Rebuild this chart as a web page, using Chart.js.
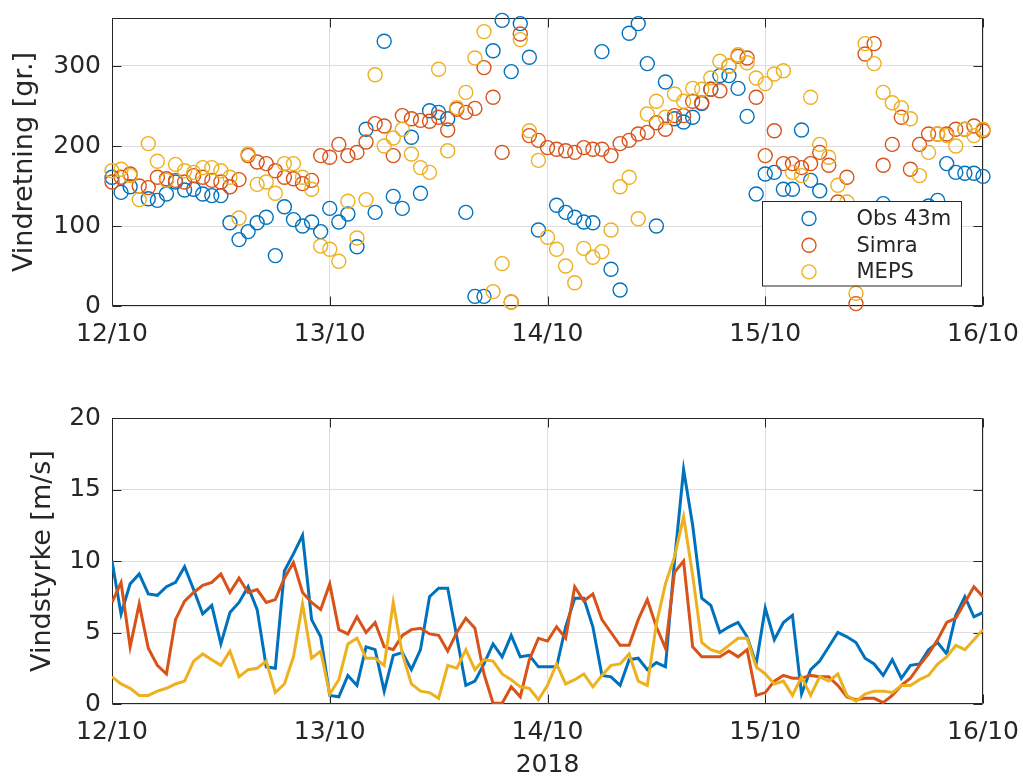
<!DOCTYPE html>
<html>
<head>
<meta charset="utf-8">
<script src="https://cdn.jsdelivr.net/npm/chart.js@4.4.0/dist/chart.umd.min.js"></script>
<style>
  html, body { margin: 0; padding: 0; background: #fff; overflow: hidden; }
  #wrap { position: relative; width: 1023px; height: 778px; }
  canvas { position: absolute; left: 0; }
</style>
</head>
<body>
<div id="wrap">
  <canvas id="chartRetning" width="1023" height="380" style="top:0px"></canvas>
  <canvas id="chartStyrke" width="1023" height="398" style="top:380px"></canvas>
</div>
<script>
// hourly values, 12/10 00:00 -> 16/10 00:00 (97 hours)
var seriesNames = ['Obs 43m', 'Simra', 'MEPS'];
var dayTicks = [0, 24, 48, 72, 96];
var dayLabels = ['12/10', '13/10', '14/10', '15/10', '16/10'];
var yearLabel = '2018';
var retningTicks = [0, 100, 200, 300];
var styrkeTicks = [0, 5, 10, 15, 20];

var retningObs = [
    161, 142, 149, null, 134, 132, 140, 155, 145, 146,
    140, 138, 138, 104, 83, 93, 104, 111, 63, 124,
    108, 100, 105, 93, 122, 105, 115, 74, 221, 117,
    331, 137, 122, 211, 141, 244, 242, 234, null, 117,
    12, 12, 319, 357, 293, 353, 311, 95, null, 126,
    117, 111, 105, 104, 318, 46, 20, 341, 353, 303,
    100, 280, 234, 230, 236, 253, 271, 288, 288, 272,
    237, 140, 165, 167, 146, 146, 220, 157, 144, 120,
    110, 100, 95, 105, 115, 128, 120, 115, 110, 118,
    125, 132, 178, 167, 166, 166, 162
];
var retningSimra = [
    155, 161, 165, 150, 148, 161, 159, 157, 155, 163,
    161, 157, 155, 149, 158, 188, 180, 178, 169, 161,
    159, 153, 157, 188, 186, 202, 188, 192, 205, 228,
    225, 188, 238, 234, 232, 231, 236, 220, 246, 242,
    247, 298, 261, 192, 5, 340, 213, 207, 198, 196,
    194, 192, 198, 196, 196, 188, 203, 207, 215, 217,
    229, 221, 238, 238, 256, 254, 271, 269, 300, 312,
    310, 261, 188, 219, 178, 178, 173, 178, 192, 176,
    130, 161, 3, 315, 328, 176, 202, 236, 171, 202,
    215, 215, 215, 221, 221, 225, 219
];
var retningMeps = [
    169, 171, 163, 133, 203, 181, 157, 177, 169, 167,
    173, 173, 169, 161, 110, 190, 152, 155, 141, 178,
    178, 161, 146, 75, 71, 56, 131, 85, 133, 289,
    200, 210, 221, 190, 173, 167, 296, 194, 248, 267,
    310, 343, 18, 53, 5, 333, 219, 182, 86, 71,
    50, 29, 72, 61, 68, 95, 149, 161, 109, 240,
    256, 236, 265, 256, 272, 271, 285, 306, 300, 314,
    304, 285, 278, 290, 294, 167, 163, 261, 202, 186,
    151, 130, 16, 328, 303, 267, 254, 248, 234, 163,
    192, 215, 213, 200, 221, 213, 221
];

var styrkeObs = [
    10.0, 6.3, 8.4, 9.1, 7.7, 7.6, 8.2, 8.5, 9.6, 8.0,
    6.3, 6.9, 4.2, 6.4, 7.1, 8.2, 6.6, 2.6, 2.5, 9.3,
    10.5, 11.8, 5.9, 4.7, 0.6, 0.5, 2.0, 1.3, 4.0, 3.8,
    0.9, 3.4, 3.6, 2.4, 3.8, 7.5, 8.1, 8.1, 4.7, 1.3,
    1.6, 2.8, 4.2, 3.3, 4.8, 3.3, 3.4, 2.6, 2.6, 2.6,
    5.4, 7.4, 7.4, 5.4, 2.0, 1.9, 1.3, 3.1, 3.2, 2.4,
    2.9, 2.6, 10.0, 16.4, 12.5, 7.4, 6.9, 5.0, 5.4, 5.7,
    4.7, 2.8, 6.7, 4.5, 5.7, 6.2, 0.7, 2.4, 3.0, 4.0,
    5.0, 4.7, 4.3, 3.2, 2.8, 2.0, 3.1, 1.8, 2.7, 2.8,
    3.8, 4.3, 3.5, 6.2, 7.5, 6.1, 6.4
];
var styrkeSimra = [
    7.1, 8.5, 4.0, 7.0, 3.9, 2.7, 2.1, 5.9, 7.2, 7.8,
    8.3, 8.5, 9.1, 7.8, 8.8, 7.8, 8.0, 7.1, 7.3, 8.8,
    9.9, 7.8, 7.1, 6.6, 8.4, 5.2, 4.9, 6.1, 5.0, 5.7,
    4.0, 3.8, 4.8, 5.2, 5.3, 4.9, 4.8, 3.7, 5.0, 6.0,
    5.3, 2.1, 0.05, 0.05, 1.2, 0.5, 3.1, 4.6, 4.4, 5.4,
    4.6, 8.2, 7.2, 7.7, 5.9, 5.0, 4.1, 4.1, 5.9, 7.3,
    5.4, 3.9, 9.2, 10.0, 4.0, 3.3, 3.3, 3.3, 3.7, 3.3,
    3.8, 0.6, 0.8, 1.6, 2.0, 1.8, 1.8, 2.0, 1.9, 1.9,
    1.3, 0.5, 0.3, 0.4, 0.4, 0.1, 0.6, 1.3, 1.8, 2.7,
    3.5, 4.5, 5.7, 6.0, 7.1, 8.2, 7.5
];
var styrkeMeps = [
    1.9, 1.4, 1.1, 0.6, 0.6, 0.9, 1.1, 1.4, 1.6, 3.0,
    3.5, 3.1, 2.7, 3.7, 1.9, 2.4, 2.5, 3.0, 0.8, 1.4,
    3.3, 7.0, 3.2, 3.7, 0.7, 1.7, 4.2, 4.6, 3.2, 3.2,
    2.7, 7.1, 3.5, 1.4, 0.9, 0.8, 0.4, 2.7, 2.5, 3.8,
    2.4, 3.1, 3.0, 2.1, 1.7, 1.2, 1.1, 0.3, 1.3, 2.8,
    1.4, 1.7, 2.1, 1.2, 2.0, 2.7, 2.8, 3.5, 1.6, 1.3,
    5.6, 8.4, 10.3, 13.1, 9.0, 4.3, 3.8, 3.6, 4.1, 4.6,
    4.6, 2.6, 2.1, 1.4, 1.6, 0.6, 1.9, 0.6, 1.9, 1.6,
    2.1, 0.6, 0.2, 0.7, 0.9, 0.9, 0.8, 1.3, 1.3, 1.7,
    2.0, 2.8, 3.3, 4.1, 3.8, 4.5, 5.2
];

var seriesColors = ['#0072BD', '#D95319', '#EDB120'];
var textColor = '#262626';
var gridColor = '#dedede';
var fontFamily = '"DejaVu Sans", sans-serif';

function toPoints(values) {
    return values.map(function (v, i) { return { x: i, y: v }; });
}

// MATLAB style box with inward ticks on all four sides
var boxPlugin = {
    id: 'matlabBox',
    beforeDatasetsDraw: function (chart) {
        var a = chart.chartArea, ctx = chart.ctx;
        var xs = chart.scales.x, ys = chart.scales.y;
        var L = Math.round(a.left) + 0.5, R = Math.round(a.right) - 0.5;
        var T = Math.round(a.top) + 0.5, B = Math.round(a.bottom) - 0.5;
        ctx.save();
        ctx.strokeStyle = textColor;
        ctx.lineWidth = 1;
        ctx.beginPath();
        ctx.rect(L, T, R - L, B - T);
        xs.ticks.forEach(function (t) {
            var px = Math.round(xs.getPixelForValue(t.value)) + 0.5;
            ctx.moveTo(px, B); ctx.lineTo(px, B - 9);
            ctx.moveTo(px, T); ctx.lineTo(px, T + 9);
        });
        ys.ticks.forEach(function (t) {
            var py = Math.round(ys.getPixelForValue(t.value)) + 0.5;
            ctx.moveTo(L, py); ctx.lineTo(L + 9, py);
            ctx.moveTo(R, py); ctx.lineTo(R - 9, py);
        });
        ctx.stroke();
        ctx.restore();
    }
};

// legend box inside the lower right corner of the direction plot
var legendPlugin = {
    id: 'insideLegend',
    afterDatasetsDraw: function (chart) {
        var a = chart.chartArea, ctx = chart.ctx;
        var x0 = Math.round(a.right) - 220.5, y0 = Math.round(a.bottom) - 104.5;
        ctx.save();
        ctx.fillStyle = '#fff';
        ctx.fillRect(x0, y0, 199, 84.5);
        ctx.strokeStyle = textColor;
        ctx.lineWidth = 1;
        ctx.strokeRect(x0, y0, 199, 84.5);
        ctx.font = '21px ' + fontFamily;
        ctx.textBaseline = 'middle';
        ctx.textAlign = 'left';
        chart.data.datasets.forEach(function (ds, i) {
            var cy = y0 + 17 + i * 26.7;
            ctx.beginPath();
            ctx.strokeStyle = ds.borderColor;
            ctx.lineWidth = 1.4;
            ctx.arc(x0 + 46.5, cy, 7, 0, Math.PI * 2);
            ctx.stroke();
            ctx.fillStyle = textColor;
            ctx.fillText(ds.label, x0 + 94, cy + 1);
        });
        ctx.restore();
    }
};

function xScale(height, extra) {
    var s = {
        type: 'linear',
        min: 0,
        max: 96,
        afterBuildTicks: function (scale) {
            scale.ticks = dayTicks.map(function (v) { return { value: v }; });
        },
        afterFit: function (scale) {
            scale.height = height;
            scale.paddingLeft = 0;
            scale.paddingRight = 0;
        },
        ticks: {
            autoSkip: false,
            maxRotation: 0,
            padding: 13,
            color: textColor,
            font: { family: fontFamily, size: 25 },
            callback: function (value) { return dayLabels[dayTicks.indexOf(value)]; }
        },
        grid: { color: gridColor, lineWidth: 1, drawTicks: false },
        border: { display: false }
    };
    return Object.assign(s, extra || {});
}

function yScale(min, max, tickVals, title, titlePad, width) {
    return {
        min: min,
        max: max,
        afterBuildTicks: function (scale) {
            scale.ticks = tickVals.map(function (v) { return { value: v }; });
        },
        afterFit: function (scale) {
            scale.width = width;
            scale.paddingTop = 0;
            scale.paddingBottom = 0;
        },
        ticks: {
            padding: 11,
            color: textColor,
            font: { family: fontFamily, size: 25 }
        },
        title: {
            display: true,
            text: title,
            color: textColor,
            font: { family: fontFamily, size: 27 },
            padding: { top: titlePad, bottom: 0 }
        },
        grid: { color: gridColor, lineWidth: 1, drawTicks: false },
        border: { display: false }
    };
}

var retningData = [retningObs, retningSimra, retningMeps];
var styrkeData = [styrkeObs, styrkeSimra, styrkeMeps];

new Chart(document.getElementById('chartRetning').getContext('2d'), {
    type: 'scatter',
    data: {
        datasets: retningData.map(function (vals, i) {
            return {
                label: seriesNames[i],
                data: toPoints(vals),
                borderColor: seriesColors[i],
                backgroundColor: 'rgba(0,0,0,0)',
                pointRadius: 7,
                pointBorderWidth: 1.4,
                clip: false,
                order: 3 - i
            };
        })
    },
    options: {
        responsive: false,
        animation: false,
        events: [],
        layout: { padding: { top: 18, right: 40, bottom: 34, left: 0 } },
        plugins: { legend: { display: false }, tooltip: { enabled: false } },
        scales: {
            x: xScale(40),
            y: yScale(0, 360, retningTicks, 'Vindretning [gr.]', 9, 112)
        }
    },
    plugins: [boxPlugin, legendPlugin]
});

new Chart(document.getElementById('chartStyrke').getContext('2d'), {
    type: 'line',
    data: {
        datasets: styrkeData.map(function (vals, i) {
            return {
                label: seriesNames[i],
                data: toPoints(vals),
                borderColor: seriesColors[i],
                borderWidth: 3,
                pointRadius: 0,
                tension: 0,
                fill: false,
                order: 3 - i
            };
        })
    },
    options: {
        responsive: false,
        animation: false,
        events: [],
        layout: { padding: { top: 38, right: 40, bottom: 0, left: 0 } },
        plugins: { legend: { display: false }, tooltip: { enabled: false } },
        scales: {
            x: xScale(74, {
                title: {
                    display: true,
                    text: yearLabel,
                    color: textColor,
                    font: { family: fontFamily, size: 25, lineHeight: 1 },
                    padding: { top: 0, bottom: 0 }
                }
            }),
            y: yScale(0, 20, styrkeTicks, 'Vindstyrke [m/s]', 27, 112)
        }
    },
    plugins: [boxPlugin]
});
</script>
</body>
</html>
